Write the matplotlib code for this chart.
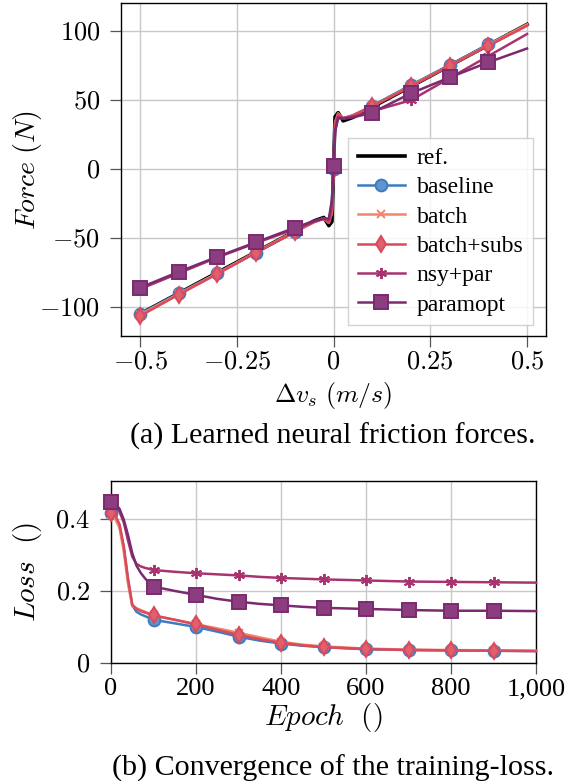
import matplotlib
matplotlib.use("Agg")
import matplotlib.pyplot as plt
import numpy as np

plt.rcParams['mathtext.fontset'] = 'cm'
plt.rcParams['font.family'] = ['Liberation Serif', 'DejaVu Serif']
plt.rcParams['axes.unicode_minus'] = True

# ---------------- data: (a) friction forces ----------------
dv = [-0.5, -0.4, -0.3, -0.2, -0.1, -0.05, -0.025, -0.012, -0.004, 0.0,
      0.004, 0.012, 0.025, 0.05, 0.1, 0.2, 0.3, 0.4, 0.5]
force_ref = [-105, -90, -75, -60, -45, -37.5, -35, -41, -38, 0,
             38, 41, 35, 37.5, 45, 60, 75, 90, 105]
force_baseline = [-105, -90, -75.5, -60.5, -45.5, -38, -36, -38, -30, 0,
                  32, 40, 37, 39, 46, 61, 75.5, 90.5, 104.5]
force_batch = [-105.5, -90.5, -75.5, -60, -45, -38, -35.5, -39, -32, 0,
               34, 40.5, 36.5, 39, 45.5, 60.5, 75, 90, 105]
force_batch_subs = [-106.5, -91, -76, -60.5, -45.5, -38.5, -36, -39, -31, 0,
                    33, 40, 37, 39, 45.5, 60, 75, 89.5, 104]
force_nsy_par = [-87, -75.5, -64, -53.5, -43.5, -38, -36, -37, -25, 0,
                 28, 38, 37, 38, 42, 50, 66, 82, 98]
force_paramopt = [-86, -74.5, -63.5, -53, -42.5, -37.5, -35.5, -36, -22, 2,
                  27, 37, 36.5, 37.5, 41, 55, 66.5, 77.5, 87.5]

# ---------------- data: (b) training loss ----------------
epoch = [0, 10, 20, 30, 40, 50, 60, 70, 80, 90, 100, 150, 200, 250, 300, 350,
         400, 450, 500, 600, 700, 800, 900, 1000]
loss_baseline = [0.415, 0.405, 0.38, 0.32, 0.23, 0.16, 0.142, 0.135, 0.13, 0.125,
                 0.12, 0.11, 0.10, 0.087, 0.073, 0.062, 0.054, 0.048, 0.044,
                 0.038, 0.036, 0.035, 0.034, 0.033]
loss_batch = [0.41, 0.40, 0.375, 0.31, 0.22, 0.158, 0.152, 0.147, 0.142, 0.137,
              0.132, 0.12, 0.108, 0.096, 0.084, 0.071, 0.059, 0.051, 0.046,
              0.04, 0.037, 0.036, 0.035, 0.034]
loss_batch_subs = [0.415, 0.41, 0.385, 0.325, 0.235, 0.162, 0.15, 0.144, 0.14,
                   0.136, 0.132, 0.12, 0.107, 0.092, 0.078, 0.066, 0.056, 0.049,
                   0.044, 0.039, 0.036, 0.035, 0.034, 0.033]
loss_nsy_par = [0.44, 0.435, 0.42, 0.39, 0.34, 0.295, 0.275, 0.268, 0.264, 0.261,
                0.258, 0.253, 0.249, 0.246, 0.243, 0.239, 0.236, 0.234, 0.232,
                0.229, 0.226, 0.225, 0.224, 0.223]
loss_paramopt = [0.447, 0.442, 0.428, 0.398, 0.355, 0.305, 0.27, 0.25, 0.235,
                 0.222, 0.212, 0.2, 0.189, 0.178, 0.17, 0.164, 0.16, 0.156,
                 0.153, 0.15, 0.147, 0.145, 0.145, 0.144]

labels = ['baseline', 'batch', 'batch+subs', 'nsy+par', 'paramopt']
colors = ['#3b7cc0', '#f0866a', '#d94a5c', '#a8336f', '#7b2a70']
facecolors = ['#5f95cc', '#f0866a', '#e0606e', '#a8336f', '#8b3d80']
markers = ['o', 'x', 'd', (6, 2, 0), 's']
msizes = [8.5, 6, 8.5, 8, 9.5]

W, H = 569, 781
fig = plt.figure(figsize=(W / 100, H / 100), dpi=100)

TICK_FS = 19
CAP_FS = 21.6


def style_axes(ax):
    ax.grid(True, color='#c8c8c8', linewidth=1.0)
    ax.set_axisbelow(True)
    for s in ax.spines.values():
        s.set_linewidth(1.0)
        s.set_color('black')
    ax.tick_params(direction='out', length=8, width=0.9, color='#555555',
                   labelsize=TICK_FS, pad=4)


# ---- top axes ----
ax1_l, ax1_b, ax1_r, ax1_t = 121, 336, 546, 3
ax1 = fig.add_axes([ax1_l / W, 1 - ax1_b / H, (ax1_r - ax1_l) / W, (ax1_b - ax1_t) / H])
style_axes(ax1)
ax1.plot(dv, force_ref, color='black', lw=2.6, label='ref.', zorder=2)
mk_idx_a = [dv.index(v) for v in [-0.5, -0.4, -0.3, -0.2, -0.1, 0.0, 0.1, 0.2, 0.3, 0.4]]
for lab, ys, c, fc, m, ms in zip(labels,
                                 [force_baseline, force_batch, force_batch_subs,
                                  force_nsy_par, force_paramopt],
                                 colors, facecolors, markers, msizes):
    ax1.plot(dv, ys, color=c, lw=1.8, marker=m, ms=ms, mfc=fc, mec=c,
             mew=1.4, markevery=mk_idx_a, label=lab, zorder=3)
ax1.set_xlim(-0.549, 0.549)
ax1.set_ylim(-121, 120.5)
ax1.set_xticks([-0.5, -0.25, 0, 0.25, 0.5])
ax1.set_xticklabels([r'$-0.5$', r'$-0.25$', r'$0$', r'$0.25$', r'$0.5$'])
ax1.set_yticks([-100, -50, 0, 50, 100])
ax1.set_yticklabels([r'$-100$', r'$-50$', r'$0$', r'$50$', r'$100$'])
ax1.tick_params(axis='y', pad=7)
ax1.tick_params(axis='x', pad=3)
ax1.set_xlabel(r'$\Delta v_s\ (m/s)$', fontsize=18.5, va='center')
ax1.xaxis.set_label_coords(0.5, (ax1_b - 395) / (ax1_b - ax1_t))
ax1.set_ylabel(r'$Force\ (N)$', fontsize=20, va='center')
ax1.yaxis.set_label_coords((27 - ax1_l) / (ax1_r - ax1_l), 0.5)
leg = ax1.legend(loc='lower right', bbox_to_anchor=(0.969, 0.033),
                 fontsize=17, frameon=True, fancybox=False, framealpha=0.85,
                 edgecolor='#cccccc', handlelength=2.0, labelspacing=0.33,
                 borderpad=0.4, handletextpad=0.5, borderaxespad=0)
leg.get_frame().set_linewidth(1.0)

fig.text(333 / W, 1 - 436 / H, '(a) Learned neural friction forces.',
         ha='center', va='center', fontsize=CAP_FS)

# ---- bottom axes ----
ax2_l, ax2_b, ax2_r, ax2_t = 111, 663, 536, 481
ax2 = fig.add_axes([ax2_l / W, 1 - ax2_b / H, (ax2_r - ax2_l) / W, (ax2_b - ax2_t) / H])
style_axes(ax2)
mk_idx_b = [epoch.index(v) for v in [0, 100, 200, 300, 400, 500, 600, 700, 800, 900]]
for lab, ys, c, fc, m, ms in zip(labels,
                                 [loss_baseline, loss_batch, loss_batch_subs,
                                  loss_nsy_par, loss_paramopt],
                                 colors, facecolors, markers, msizes):
    ax2.plot(epoch, ys, color=c, lw=1.8, marker=m, ms=ms, mfc=fc, mec=c,
             mew=1.4, markevery=mk_idx_b, label=lab, zorder=3, clip_on=False)
ax2.set_xlim(0, 1000)
ax2.set_ylim(0, 0.505)
ax2.set_xticks([0, 200, 400, 600, 800, 1000])
ax2.set_xticklabels(['0', '200', '400', '600', '800', '1,000'])
ax2.set_yticks([0, 0.2, 0.4])
ax2.set_yticklabels([r'$0$', r'$0.2$', r'$0.4$'])
ax2.tick_params(axis='y', pad=7)
ax2.tick_params(axis='x', pad=3)
ax2.set_xlabel(r'$Epoch\ \ ()$', fontsize=21, va='center')
ax2.xaxis.set_label_coords(0.5, (ax2_b - 718) / (ax2_b - ax2_t))
ax2.set_ylabel(r'$Loss\ \ ()$', fontsize=21, va='center')
ax2.yaxis.set_label_coords((27 - ax2_l) / (ax2_r - ax2_l), 0.5)

fig.text(333 / W, 1 - 768 / H, '(b) Convergence of the training-loss.',
         ha='center', va='center', fontsize=CAP_FS)

fig.savefig('out.png', dpi=100)
